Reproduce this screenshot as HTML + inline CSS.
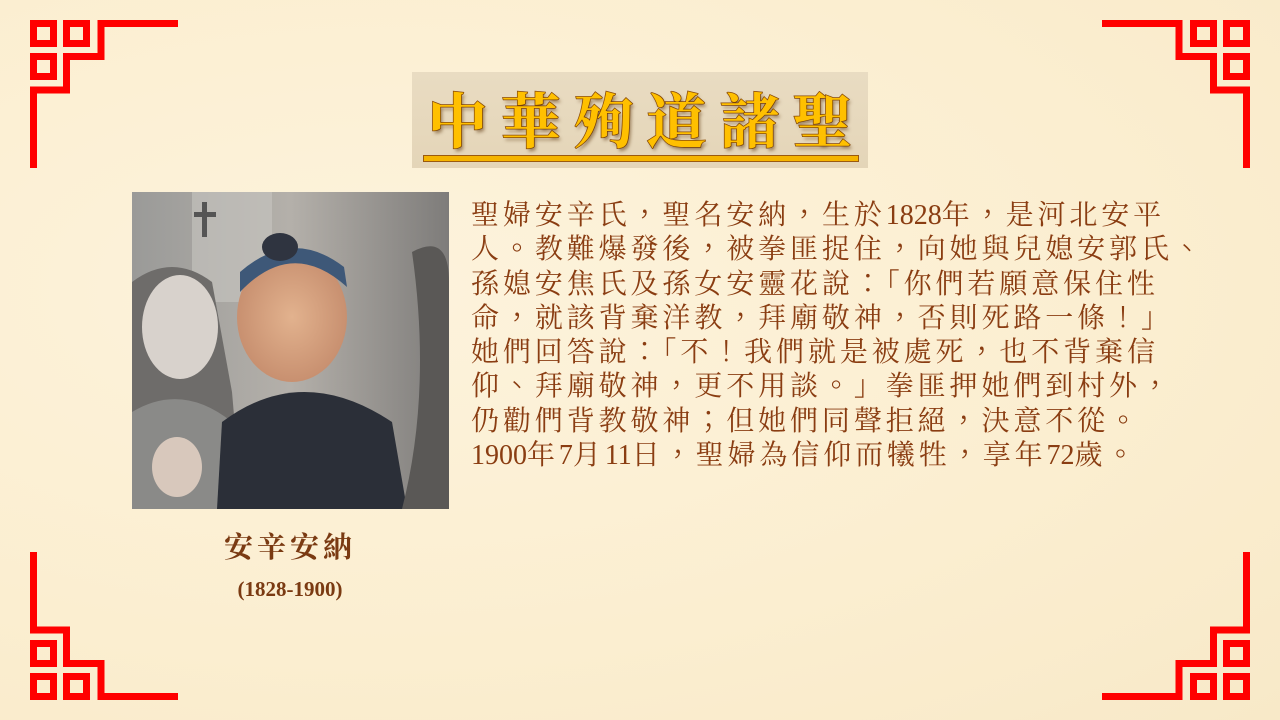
<!DOCTYPE html>
<html><head><meta charset="utf-8">
<style>
html,body{margin:0;padding:0}
body{width:1280px;height:720px;position:relative;overflow:hidden;background:#fcf0d4;font-family:"Liberation Serif","Noto Serif CJK SC",serif}
.bg{position:absolute;inset:0;background:radial-gradient(ellipse at 30% 40%,#fdf3dc 0%,#fbeed0 60%,#f8e9c8 100%)}
.title{position:absolute;left:412px;top:72px;width:456px;height:96px;background:linear-gradient(#e9dcc2,#e4d5b8)}
.title span{position:absolute;left:0;top:8px;width:456px;text-align:center;font-family:"Noto Serif CJK SC","Noto Sans CJK TC",serif;font-weight:bold;font-size:60px;line-height:76px;letter-spacing:13px;color:#ffc000;-webkit-text-stroke:1.5px #8a4a08;paint-order:stroke fill;text-shadow:2px 3px 3px rgba(90,50,10,.5);padding-left:13px;box-sizing:border-box}
.uline{position:absolute;left:423px;top:155px;width:434px;height:5px;background:#f5b400;border:1px solid #9a5a10}
.para{position:absolute;left:471px;top:196px;font-size:28px;letter-spacing:3.9px;color:#8a3d12;white-space:nowrap}
.para div{height:34.3px;line-height:34.3px;overflow:visible}
.para span{line-height:34.3px}
.para .p{font-family:"Noto Sans CJK TC",sans-serif;font-weight:300}
.para .d{letter-spacing:0}
.photo{position:absolute;left:132px;top:192px;width:317px;height:317px;overflow:hidden}
.cap{position:absolute;left:140px;width:300px;text-align:center;color:#7a3a12;font-weight:bold}
</style></head><body>
<div class="bg"></div>
<svg width="1280" height="720" style="position:absolute;left:0;top:0">
<defs><g id="orn" fill="none" stroke="#ff0000" stroke-width="7">
<rect x="33.5" y="23.5" width="20" height="20"/>
<rect x="66.5" y="23.5" width="20" height="20"/>
<rect x="33.5" y="56.5" width="20" height="20"/>
<polyline points="178,23.5 101,23.5 101,56.5 66.5,56.5 66.5,90 33.5,90 33.5,168"/>
</g></defs>
<use href="#orn"/>
<use href="#orn" transform="translate(1280,0) scale(-1,1)"/>
<use href="#orn" transform="translate(0,720) scale(1,-1)"/>
<use href="#orn" transform="translate(1280,720) scale(-1,-1)"/>
</svg>
<div class="title"><span>中華殉道諸聖</span></div>
<div class="uline"></div>
<div class="photo">
<svg width="317" height="317">
<defs><linearGradient id="g1" x1="0" y1="0" x2="1" y2="0"><stop offset="0" stop-color="#9a9a98"/><stop offset=".5" stop-color="#b4b0aa"/><stop offset="1" stop-color="#7e7c7a"/></linearGradient>
<radialGradient id="face" cx=".5" cy=".5" r=".5"><stop offset="0" stop-color="#e2b28e"/><stop offset="1" stop-color="#c89070"/></radialGradient></defs>
<rect width="317" height="317" fill="url(#g1)"/>
<rect x="60" y="0" width="80" height="110" fill="#c8c6c2" opacity=".6"/>
<rect x="70" y="10" width="5" height="35" fill="#555"/><rect x="62" y="20" width="22" height="5" fill="#555"/>
<path d="M0 90 Q40 60 80 90 L100 200 L110 317 L0 317Z" fill="#6e6c6a"/>
<ellipse cx="48" cy="135" rx="38" ry="52" fill="#d8d2cc"/>
<path d="M0 220 Q50 190 100 230 L110 317 L0 317Z" fill="#8a8a88"/>
<path d="M90 230 Q170 170 260 230 L275 317 L85 317Z" fill="#2b2f38"/>
<ellipse cx="160" cy="125" rx="55" ry="65" fill="url(#face)"/>
<path d="M108 100 Q160 45 215 95 L212 75 Q160 35 108 80Z" fill="#3e5878"/>
<ellipse cx="148" cy="55" rx="18" ry="14" fill="#2f3440"/>
<path d="M280 60 Q317 40 317 90 L317 317 L270 317 Q300 200 280 60Z" fill="#5a5856"/>
<ellipse cx="45" cy="275" rx="25" ry="30" fill="#d8c8bc"/>
</svg></div>
<div class="para">
<div>聖婦安辛氏<span class="p">，</span>聖名安納<span class="p">，</span>生於<span class="d">1828</span>年<span class="p">，</span>是河北安平</div>
<div>人<span class="p">。</span>教難爆發後<span class="p">，</span>被拳匪捉住<span class="p">，</span>向她與兒媳安郭氏<span class="p">、</span></div>
<div>孫媳安焦氏及孫女安靈花說<span class="p">：「</span>你們若願意保住性</div>
<div>命<span class="p">，</span>就該背棄洋教<span class="p">，</span>拜廟敬神<span class="p">，</span>否則死路一條<span class="p">！」</span></div>
<div>她們回答說<span class="p">：「</span>不<span class="p">！</span>我們就是被處死<span class="p">，</span>也不背棄信</div>
<div>仰<span class="p">、</span>拜廟敬神<span class="p">，</span>更不用談<span class="p">。」</span>拳匪押她們到村外<span class="p">，</span></div>
<div>仍勸們背教敬神<span class="p">；</span>但她們同聲拒絕<span class="p">，</span>決意不從<span class="p">。</span></div>
<div><span class="d">1900</span>年<span class="d">7</span>月<span class="d">11</span>日<span class="p">，</span>聖婦為信仰而犧牲<span class="p">，</span>享年<span class="d">72</span>歲<span class="p">。</span></div>
</div>
<div class="cap" style="top:528px;font-size:29px;letter-spacing:4px;line-height:40px">安辛安納</div>
<div class="cap" style="top:576px;font-size:21px;line-height:26px">(1828-1900)</div>
</body></html>
